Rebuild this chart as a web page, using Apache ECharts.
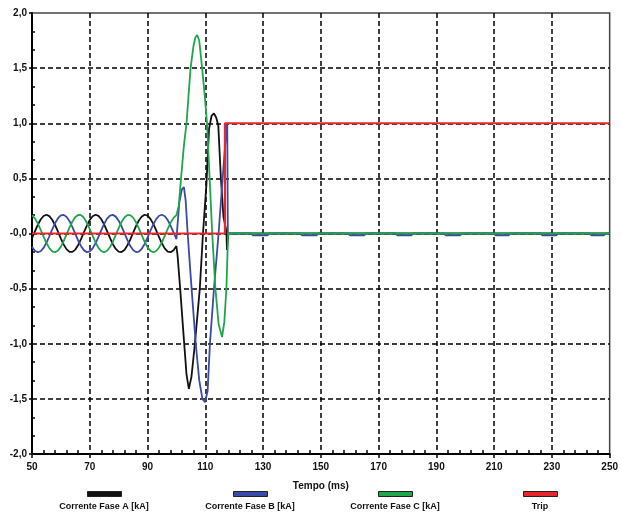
<!DOCTYPE html>
<html>
<head>
<meta charset="utf-8">
<script src="https://cdn.jsdelivr.net/npm/echarts@6/dist/echarts.min.js"></script>
<style>
html, body { margin: 0; padding: 0; background: #fff; }
#chart { width: 621px; height: 515px; }
</style>
</head>
<body>
<div id="chart"></div>
<script>
// tempo pre-falta (ms), um ponto por ms
var tempo = [50, 51, 52, 53, 54, 55, 56, 57, 58, 59,
	60, 61, 62, 63, 64, 65, 66, 67, 68, 69,
	70, 71, 72, 73, 74, 75, 76, 77, 78, 79,
	80, 81, 82, 83, 84, 85, 86, 87, 88, 89,
	90, 91, 92, 93, 94, 95, 96, 97, 98, 99,
	100];

var correnteA = [-0.043, 0.019, 0.078, 0.127, 0.159, 0.170, 0.158, 0.125, 0.075, 0.016,
	-0.046, -0.102, -0.144, -0.167, -0.167, -0.146, -0.104, -0.049, 0.012, 0.072,
	0.123, 0.157, 0.170, 0.160, 0.129, 0.081, 0.022, -0.040, -0.097, -0.140,
	-0.165, -0.168, -0.149, -0.109, -0.055, 0.006, 0.067, 0.118, 0.154, 0.170,
	0.162, 0.133, 0.087, 0.028, -0.034, -0.091, -0.137, -0.164, -0.169, -0.152,
	-0.114];

var correnteB = [-0.121, -0.156, -0.170, -0.161, -0.131, -0.084, -0.025, 0.037, 0.094, 0.139,
	0.165, 0.169, 0.150, 0.112, 0.058, -0.003, -0.064, -0.116, -0.153, -0.169,
	-0.163, -0.135, -0.089, -0.031, 0.031, 0.089, 0.135, 0.163, 0.169, 0.153,
	0.116, 0.064, 0.003, -0.058, -0.112, -0.150, -0.169, -0.165, -0.139, -0.095,
	-0.037, 0.025, 0.083, 0.131, 0.161, 0.170, 0.156, 0.121, 0.070, 0.010,
	-0.052];

var correnteC = [0.164, 0.137, 0.092, 0.034, -0.028, -0.086, -0.133, -0.162, -0.170, -0.155,
	-0.119, -0.067, -0.006, 0.055, 0.109, 0.149, 0.168, 0.166, 0.141, 0.097,
	0.040, -0.022, -0.081, -0.129, -0.160, -0.170, -0.157, -0.123, -0.073, -0.013,
	0.049, 0.104, 0.145, 0.167, 0.167, 0.144, 0.102, 0.047, -0.015, -0.075,
	-0.125, -0.158, -0.170, -0.159, -0.127, -0.078, -0.019, 0.043, 0.099, 0.142,
	0.166];

// falta e abertura: [tempo, valor]
var faltaA = [[100.4, -0.2], [101.3, -0.5], [102.7, -1.0], [103.5, -1.28], [104.3, -1.41],
	[105.2, -1.3], [106.4, -1.0], [108.1, -0.5], [109.2, 0], [110.4, 0.45], [111.3, 0.95],
	[112.2, 1.07], [113.0, 1.09], [113.8, 1.05], [114.5, 0.98], [115.4, 0.5], [116.3, 0.15],
	[117.3, 0.02], [117.5, -0.15], [117.8, -0.15], [118.0, 0], [250, 0]];

var faltaB = [[100.3, 0.05], [101.0, 0.28], [101.9, 0.4], [102.6, 0.42], [103.2, 0.3],
	[103.9, 0], [104.7, -0.3], [105.4, -0.55], [106.7, -1.0], [107.9, -1.33], [109.0, -1.5],
	[109.9, -1.53], [110.8, -1.43], [111.6, -1.0], [113.0, -0.5], [114.6, 0], [116.0, 0.5],
	[117.4, 0.98], [117.6, 1.0], [117.8, 0], [118.0, 0],
	// residuo apos abertura (tracos azuis junto ao zero)
	[125.8, 0], [126.5, -0.016], [131.5, -0.016], [132.2, 0],
	[142.8, 0], [143.5, -0.016], [148.5, -0.016], [149.2, 0],
	[159.4, 0], [160.1, -0.016], [165.0, -0.016], [165.7, 0],
	[175.8, 0], [176.5, -0.016], [181.3, -0.016], [182.0, 0],
	[192.6, 0], [193.3, -0.016], [198.2, -0.016], [198.9, 0],
	[209.8, 0], [210.5, -0.016], [215.0, -0.016], [215.7, 0],
	[226.0, 0], [226.7, -0.016], [231.5, -0.016], [232.2, 0],
	[243.0, 0], [243.7, -0.016], [248.0, -0.016], [248.7, 0], [250, 0]];

var faltaC = [[100.8, 0.25], [101.6, 0.5], [102.6, 0.8], [103.5, 1.0], [104.2, 1.25],
	[104.9, 1.5], [105.9, 1.7], [106.6, 1.78], [107.2, 1.8], [107.9, 1.75], [108.9, 1.5],
	[109.8, 1.25], [110.6, 1.0], [111.5, 0.5], [112.4, 0], [113.5, -0.5], [114.6, -0.82],
	[115.8, -0.94], [116.6, -0.8], [117.3, -0.5], [117.9, 0], [250, 0]];

var tripTempo = [50, 116.8, 116.8, 250];
var tripValor = [0, 0, 1, 1];

var yRotulos = ['-2,0', '-1,5', '-1,0', '-0,5', '-0,0', '0,5', '1,0', '1,5', '2,0'];

var nomes = ['Corrente Fase A [kA]', 'Corrente Fase B [kA]', 'Corrente Fase C [kA]', 'Trip'];
var cores = ['#111111', '#3a4aa8', '#1fa64a', '#e8262b'];
var legendaX = [104, 250, 395, 540];

var fonte = '"Liberation Sans", Arial, sans-serif';

function pares(t, v, resto) {
	var out = [];
	for(var i = 0; i < t.length; i++) {
		out.push([t[i], v[i]]);
	}
	return resto ? out.concat(resto) : out;
}

var chart = echarts.init(document.getElementById('chart'));

var dados = [
	pares(tempo, correnteA, faltaA),
	pares(tempo, correnteB, faltaB),
	pares(tempo, correnteC, faltaC),
	pares(tripTempo, tripValor)
];

var series = [];
for(var i = 0; i < 4; i++) {
	series.push({
		name: nomes[i],
		type: 'line',
		showSymbol: false,
		color: cores[i],
		lineStyle: { width: i == 3 ? 2.2 : 1.8, color: cores[i] },
		data: dados[i]
	});
}

var legendas = [];
var textos = [];
for(var i = 0; i < 4; i++) {
	legendas.push({
		data: [nomes[i]],
		left: legendaX[i] - 17,
		top: 491,
		padding: 0,
		itemGap: 0,
		itemWidth: 34,
		itemHeight: 5,
		icon: 'rect',
		selectedMode: false,
		formatter: function() { return ''; },
		itemStyle: { borderColor: '#222', borderWidth: 1 }
	});
	textos.push({
		type: 'text',
		x: legendaX[i],
		y: 507,
		style: {
			text: nomes[i],
			align: 'center',
			verticalAlign: 'middle',
			font: 'bold 9px ' + fonte,
			fill: '#111'
		}
	});
}

var grade = { color: '#000', width: 1.5, type: [5, 3] };
var rotulo = { color: '#111', fontFamily: fonte, fontWeight: 'bold', fontSize: 10 };

chart.setOption({
	animation: false,
	backgroundColor: '#fff',
	grid: {
		left: 32,
		right: 6,
		top: 13,
		bottom: 61,
		show: true,
		borderColor: '#444',
		borderWidth: 1.5
	},
	xAxis: [{
		type: 'value',
		min: 50,
		max: 250,
		interval: 20,
		name: 'Tempo (ms)',
		nameLocation: 'middle',
		nameGap: 27,
		nameTextStyle: rotulo,
		axisLine: { onZero: false, lineStyle: { color: '#000', width: 2 } },
		axisTick: { length: 4, lineStyle: { color: '#000', width: 1.5 } },
		axisLabel: Object.assign({ margin: 8 }, rotulo),
		splitLine: { show: true, showMinLine: false, showMaxLine: false, lineStyle: grade }
	}, {
		// marcas menores para dentro
		type: 'value',
		position: 'bottom',
		min: 50,
		max: 250,
		interval: 20,
		axisLine: { show: false, onZero: false },
		axisTick: { show: false, inside: true },
		minorTick: { show: true, splitNumber: 5, length: 4, lineStyle: { color: '#000', width: 1.5 } },
		axisLabel: { show: false },
		splitLine: { show: false }
	}],
	yAxis: [{
		type: 'value',
		min: -2,
		max: 2,
		interval: 0.5,
		axisLine: { show: true, onZero: false, lineStyle: { color: '#000', width: 2 } },
		axisTick: { show: true, length: 3, lineStyle: { color: '#000', width: 1.5 } },
		axisLabel: Object.assign({
			margin: 5,
			formatter: function(v) { return yRotulos[Math.round((v + 2) / 0.5)]; }
		}, rotulo),
		splitLine: { show: true, showMinLine: false, showMaxLine: false, lineStyle: grade }
	}, {
		type: 'value',
		position: 'left',
		min: -2,
		max: 2,
		interval: 0.5,
		axisLine: { show: false, onZero: false },
		axisTick: { show: false, inside: true },
		minorTick: { show: true, splitNumber: 3, length: 3, lineStyle: { color: '#000', width: 1.5 } },
		axisLabel: { show: false },
		splitLine: { show: false }
	}],
	legend: legendas,
	graphic: textos,
	series: series
});
</script>
</body>
</html>
